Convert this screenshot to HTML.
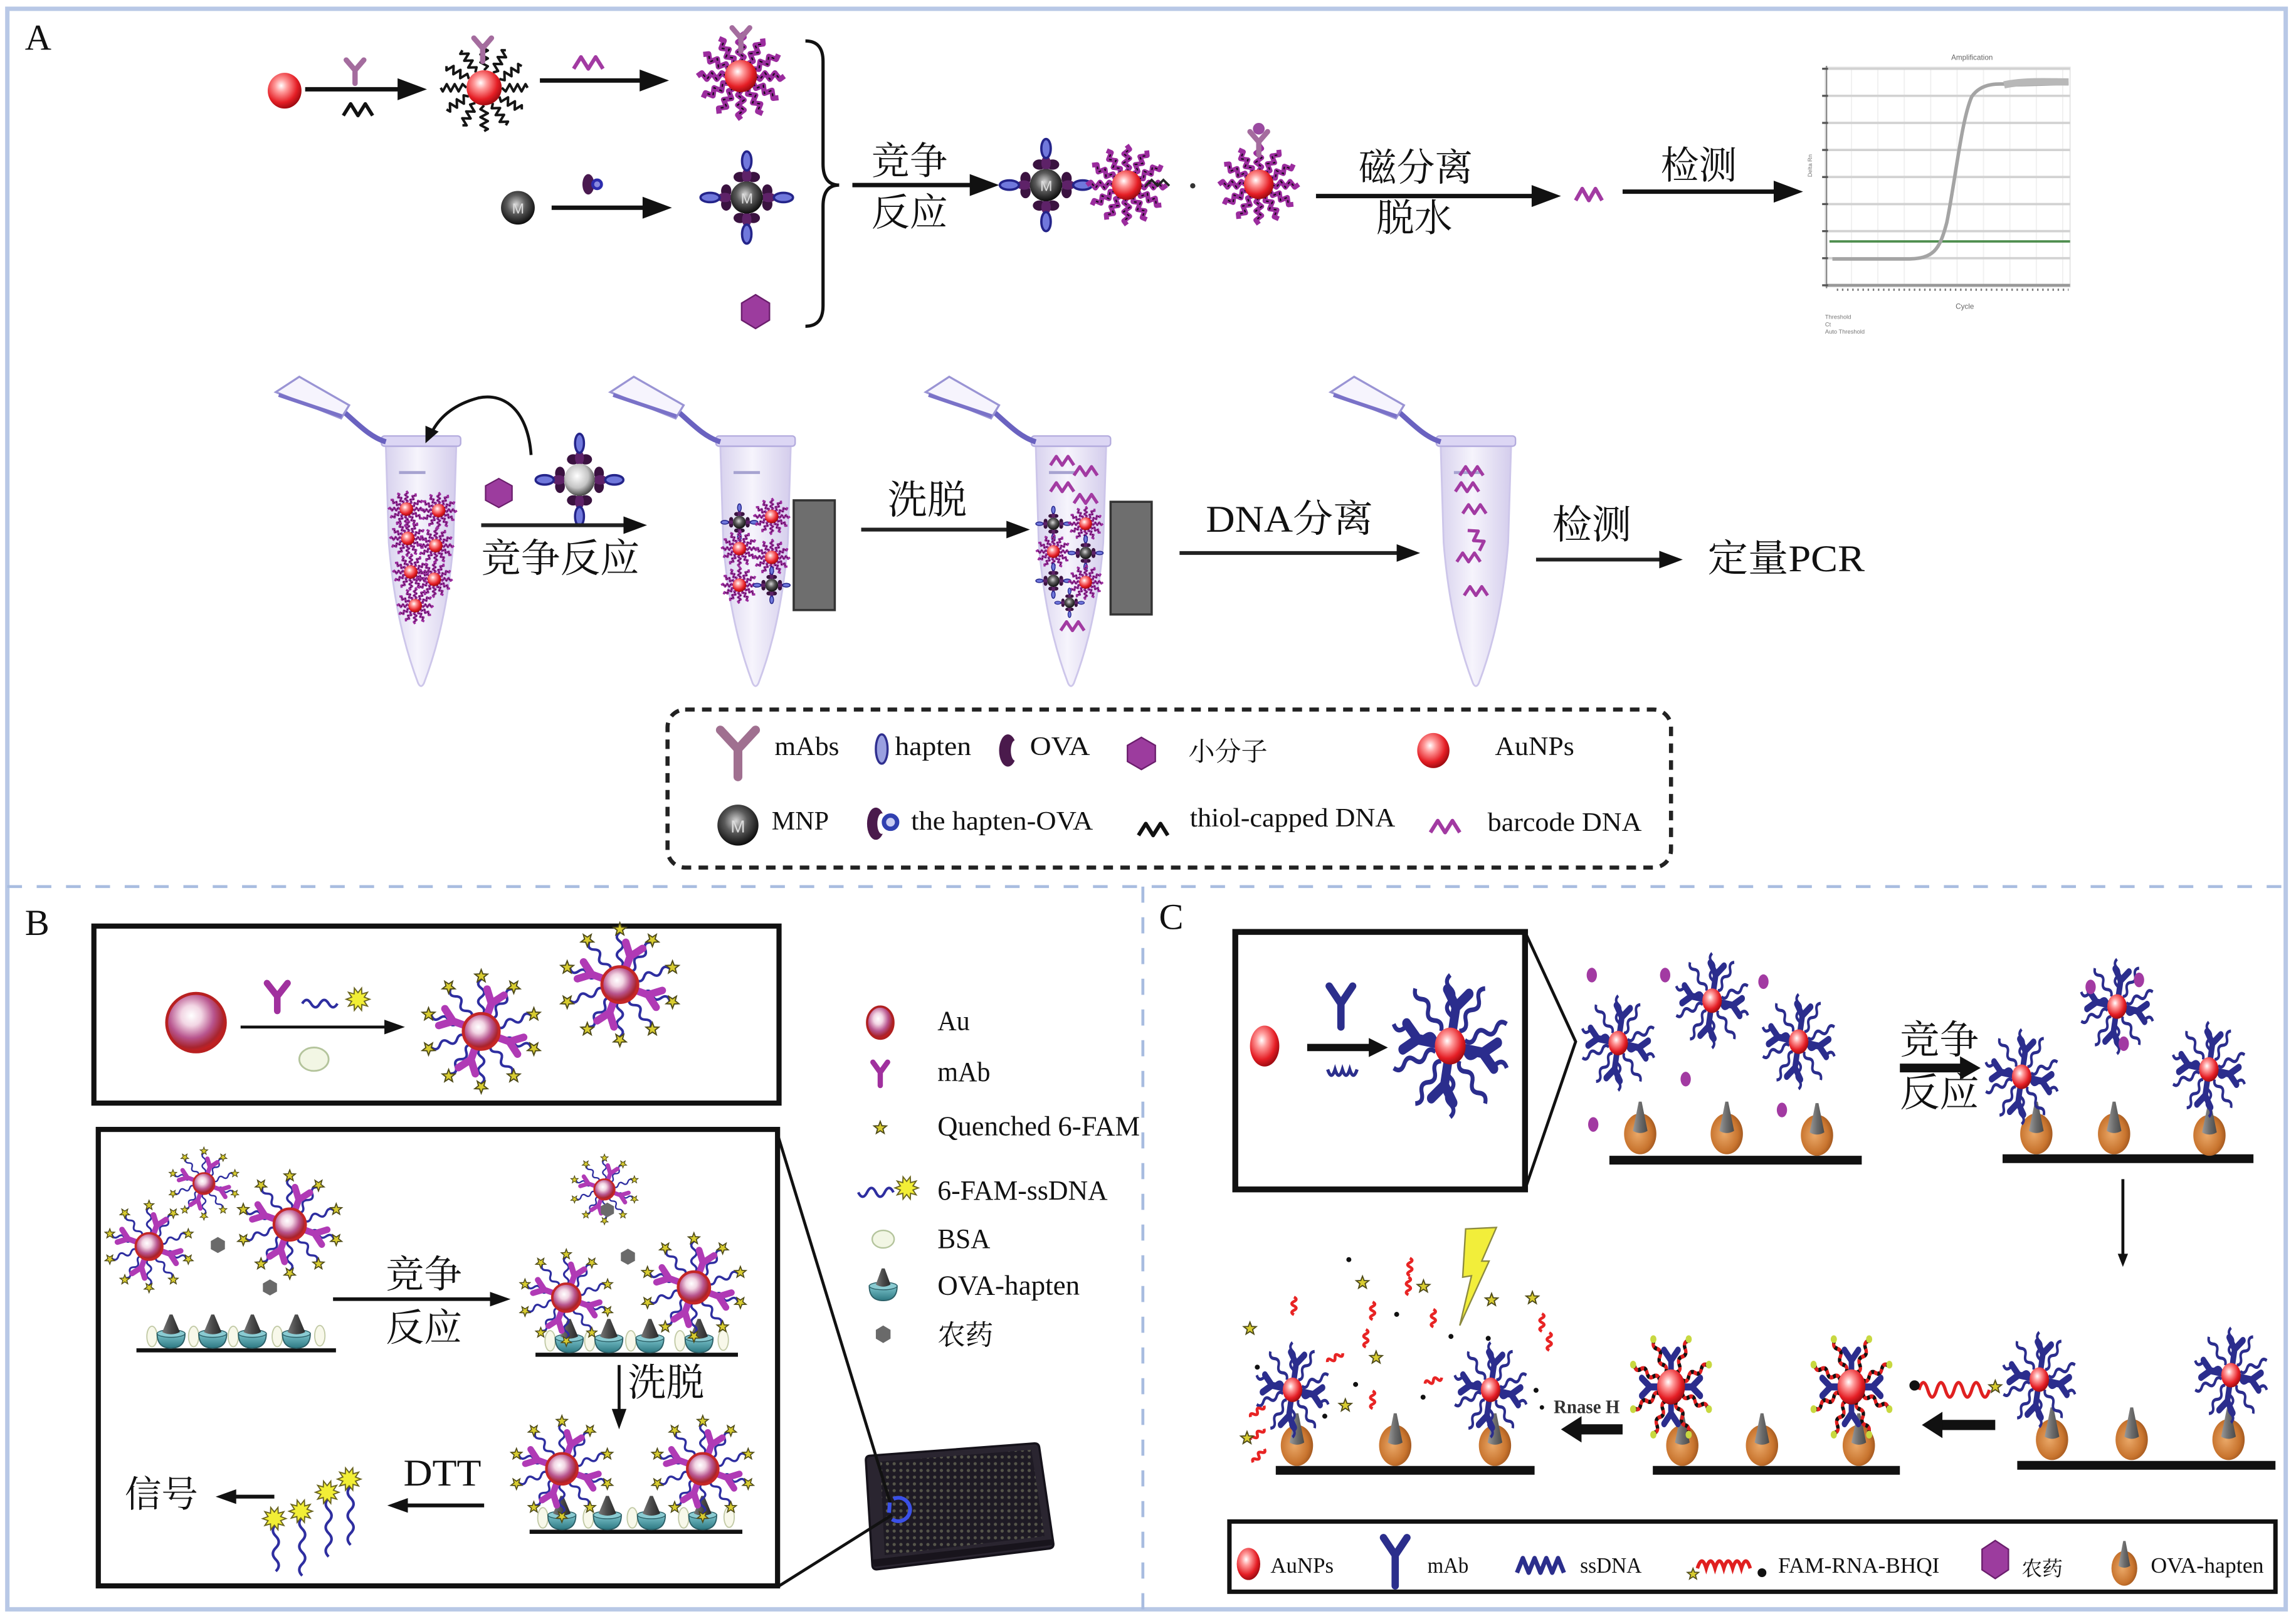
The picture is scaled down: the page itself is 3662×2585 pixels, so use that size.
<!DOCTYPE html>
<html><head><meta charset="utf-8">
<style>
html,body{margin:0;padding:0;background:#fff;}
svg{display:block;}
.s{font-family:"Liberation Serif","Noto Serif CJK SC","Noto Sans CJK SC",serif;fill:#111;}
</style></head><body>
<svg width="3662" height="2585" viewBox="0 0 1565 1108" preserveAspectRatio="none" xmlns="http://www.w3.org/2000/svg">
<defs>
<radialGradient id="gRed" cx="0.4" cy="0.36" r="0.66">
<stop offset="0" stop-color="#ffffff"/><stop offset="0.28" stop-color="#ff9a9a"/><stop offset="0.72" stop-color="#e51e25"/><stop offset="1" stop-color="#9c0a10"/></radialGradient>
<radialGradient id="gAu" cx="0.42" cy="0.38" r="0.62">
<stop offset="0" stop-color="#ffffff"/><stop offset="0.28" stop-color="#f2d6e4"/><stop offset="0.62" stop-color="#b8558e"/><stop offset="0.88" stop-color="#a8242e"/><stop offset="1" stop-color="#c81e1e"/></radialGradient>
<radialGradient id="gBlk" cx="0.45" cy="0.4" r="0.62">
<stop offset="0" stop-color="#d6d6d6"/><stop offset="0.45" stop-color="#5a5a5a"/><stop offset="1" stop-color="#080808"/></radialGradient>
<radialGradient id="gSil" cx="0.42" cy="0.38" r="0.62">
<stop offset="0" stop-color="#ffffff"/><stop offset="0.6" stop-color="#c4c4c4"/><stop offset="1" stop-color="#4a4a4a"/></radialGradient>
<radialGradient id="gDrop" cx="0.42" cy="0.5" r="0.62">
<stop offset="0" stop-color="#eaa868"/><stop offset="0.7" stop-color="#c8742e"/><stop offset="1" stop-color="#9a521c"/></radialGradient>
<linearGradient id="gCone" x1="0" x2="1"><stop offset="0" stop-color="#9a9a9a"/><stop offset="0.5" stop-color="#6c6c6c"/><stop offset="1" stop-color="#4a4a4a"/></linearGradient>
<linearGradient id="gCone2" x1="0" x2="1"><stop offset="0" stop-color="#777"/><stop offset="0.5" stop-color="#4a4a4a"/><stop offset="1" stop-color="#2a2a2a"/></linearGradient>
<linearGradient id="gBowl" x1="0" x2="0" y1="0" y2="1"><stop offset="0" stop-color="#7cc4cc"/><stop offset="1" stop-color="#2d7882"/></linearGradient>
<linearGradient id="gTube" x1="0" x2="1"><stop offset="0" stop-color="#d8d2ee"/><stop offset="0.45" stop-color="#f6f4fc"/><stop offset="1" stop-color="#d4cdec"/></linearGradient>
<pattern id="holes" width="4.6" height="4.6" patternUnits="userSpaceOnUse"><rect width="4.6" height="4.6" fill="#1e1a24"/><circle cx="2.3" cy="2.3" r="1.1" fill="#55554a"/></pattern>

<!-- A: arms -->
<path id="zzk" d="M0,-12 l2.5,-2.7 l-5,-2.7 l5,-2.7 l-5,-2.7 l5,-2.7 l-5,-2.7 l2.5,-1.4" fill="none" stroke="#151515" stroke-width="1.7" stroke-linejoin="round"/>
<g id="zzp"><path d="M0,-10 l2.2,-3 l-4.4,-3.4 l4.4,-3.4 l-4.4,-3.4 l4.4,-3.4 l-2.2,-3" fill="none" stroke="#9b2c9e" stroke-width="3.6" stroke-linejoin="round"/><path d="M0,-10 l2.2,-3 l-4.4,-3.4 l4.4,-3.4 l-4.4,-3.4 l4.4,-3.4" fill="none" stroke="#1a0a1a" stroke-width="1" stroke-dasharray="2 2.5"/></g>
<path id="abA" d="M0,9 L0,0 M0,0 L-6,-7 M0,0 L6,-7" fill="none" stroke="#a46c9e" stroke-width="3.6" stroke-linecap="round"/>
<g id="aBC">
<use href="#zzk"/><use href="#zzk" transform="rotate(30)"/><use href="#zzk" transform="rotate(60)"/><use href="#zzk" transform="rotate(90)"/><use href="#zzk" transform="rotate(120)"/><use href="#zzk" transform="rotate(150)"/><use href="#zzk" transform="rotate(180)"/><use href="#zzk" transform="rotate(210)"/><use href="#zzk" transform="rotate(240)"/><use href="#zzk" transform="rotate(270)"/><use href="#zzk" transform="rotate(300)"/><use href="#zzk" transform="rotate(330)"/>
<circle r="12" fill="url(#gRed)"/>
</g>
<g id="aPF">
<use href="#zzp"/><use href="#zzp" transform="rotate(30)"/><use href="#zzp" transform="rotate(60)"/><use href="#zzp" transform="rotate(90)"/><use href="#zzp" transform="rotate(120)"/><use href="#zzp" transform="rotate(150)"/><use href="#zzp" transform="rotate(180)"/><use href="#zzp" transform="rotate(210)"/><use href="#zzp" transform="rotate(240)"/><use href="#zzp" transform="rotate(270)"/><use href="#zzp" transform="rotate(300)"/><use href="#zzp" transform="rotate(330)"/>
<circle r="11" fill="url(#gRed)"/>
</g>
<g id="mxArm">
<ellipse cx="-4.5" cy="-14" rx="4.5" ry="3.5" fill="#3a1240"/>
<ellipse cx="4.5" cy="-14" rx="4.5" ry="3.5" fill="#3a1240"/>
<ellipse cx="0" cy="-15" rx="3.2" ry="5" fill="#5e2268"/>
<ellipse cx="0" cy="-25" rx="3.2" ry="6.5" fill="#7078dc" stroke="#24248a" stroke-width="1.6"/>
</g>
<g id="aMX">
<use href="#mxArm"/><use href="#mxArm" transform="rotate(90)"/><use href="#mxArm" transform="rotate(180)"/><use href="#mxArm" transform="rotate(270)"/>
<circle r="11" fill="url(#gBlk)"/>
</g>
<g id="aMXs">
<use href="#mxArm"/><use href="#mxArm" transform="rotate(90)"/><use href="#mxArm" transform="rotate(180)"/><use href="#mxArm" transform="rotate(270)"/>
<circle r="11" fill="url(#gSil)"/>
</g>
<path id="pz" d="M-8,3 l4,-6 l4,6 l4,-6 l4,6" fill="none" stroke="#a23aa2" stroke-width="2.2" stroke-linejoin="round"/>
<polygon id="hex" points="0,-11 9.5,-5.5 9.5,5.5 0,11 -9.5,5.5 -9.5,-5.5" fill="#9c3c9e" stroke="#6a1e6c" stroke-width="1"/>

<!-- tube -->
<g id="tube">
<path d="M-24,4 L-22,70 C-18,120 -8,150 -2,166 Q0,170 2,166 C8,150 18,120 22,70 L24,4 Z" fill="url(#gTube)" stroke="#cdc6ea" stroke-width="1.2"/>
<rect x="-27" y="-3" width="54" height="7" rx="2" fill="#dcd6f4" stroke="#b4acde" stroke-width="1"/>
<line x1="-15" y1="22" x2="3" y2="22" stroke="#a6a2d0" stroke-width="2"/>
<path d="M-52,-19 C-42,-10 -34,-2 -24,1" fill="none" stroke="#6a62c0" stroke-width="3.5"/>
<polygon points="-99,-33 -83,-43.5 -49,-24 -54.5,-15" fill="#f6f4fd" stroke="#9a94d4" stroke-width="1.4"/>
<line x1="-97" y1="-31" x2="-54" y2="-16.5" stroke="#7a72c8" stroke-width="2.6"/>
</g>

<!-- B -->
<polygon id="st" points="0,-4.5 1.12,-1.54 4.28,-1.39 1.81,0.59 2.65,3.64 0,1.9 -2.65,3.64 -1.81,0.59 -4.28,-1.39 -1.12,-1.54" fill="#d8cc30" stroke="#4e4a18" stroke-width="0.8"/>
<polygon id="bu" points="8,0 4.28,1.39 6.47,4.7 2.65,3.64 2.47,7.61 0,4.5 -2.47,7.61 -2.65,3.64 -6.47,4.7 -4.28,1.39 -8,0 -4.28,-1.39 -6.47,-4.7 -2.65,-3.64 -2.47,-7.61 0,-4.5 2.47,-7.61 2.65,-3.64 6.47,-4.7 4.28,-1.39" fill="#f2ee36" stroke="#6a6420" stroke-width="0.8"/>
<g id="bW"><path d="M0,-11 q4,-3 0,-6 q-4,-3 0,-6 q4,-3 0,-6 q-4,-3 0,-6" fill="none" stroke="#2e2ea0" stroke-width="1.7"/><use href="#st" transform="translate(0,-37)"/></g>
<path id="bY" d="M0,-9 L0,-20 M0,-20 L-6,-28 M0,-20 L6,-28" fill="none" stroke="#b03ab5" stroke-width="5" stroke-linecap="round"/>
<g id="bC">
<use href="#bW"/><use href="#bW" transform="rotate(36)"/><use href="#bW" transform="rotate(72)"/><use href="#bW" transform="rotate(108)"/><use href="#bW" transform="rotate(144)"/><use href="#bW" transform="rotate(180)"/><use href="#bW" transform="rotate(216)"/><use href="#bW" transform="rotate(252)"/><use href="#bW" transform="rotate(288)"/><use href="#bW" transform="rotate(324)"/>
<use href="#bY" transform="rotate(20)"/><use href="#bY" transform="rotate(110)"/><use href="#bY" transform="rotate(200)"/><use href="#bY" transform="rotate(290)"/>
<circle r="12" fill="url(#gAu)" stroke="#c42626" stroke-width="2"/>
</g>
<g id="bw">
<ellipse cx="-13" cy="-8" rx="3.5" ry="7" fill="#f8f8ea" stroke="#c2caa6" stroke-width="0.8"/>
<path d="M-9.5,-10 Q-9.5,0 0,0 Q9.5,0 9.5,-10 Z" fill="url(#gBowl)" stroke="#2c6068" stroke-width="0.8"/>
<ellipse cy="-10" rx="9.5" ry="2.6" fill="#8acbd2" stroke="#2c6068" stroke-width="0.6"/>
<path d="M-6,-11 Q0,-8 6,-11 L1,-23 L-1,-23 Z" fill="url(#gCone2)"/>
</g>

<!-- C -->
<g id="cW"><path d="M0,-7 q3,-2.5 0,-5 q-3,-2.5 0,-5 q3,-2.5 0,-5 q-3,-2.5 0,-5" fill="none" stroke="#2b2d8d" stroke-width="1.8"/></g>
<path id="cY" d="M0,-6 L0,-15 M0,-15 L-5,-21 M0,-15 L5,-21" fill="none" stroke="#2b2d8d" stroke-width="4" stroke-linecap="round"/>
<g id="cC">
<use href="#cW"/><use href="#cW" transform="rotate(36)"/><use href="#cW" transform="rotate(72)"/><use href="#cW" transform="rotate(108)"/><use href="#cW" transform="rotate(144)"/><use href="#cW" transform="rotate(180)"/><use href="#cW" transform="rotate(216)"/><use href="#cW" transform="rotate(252)"/><use href="#cW" transform="rotate(288)"/><use href="#cW" transform="rotate(324)"/>
<use href="#cY" transform="rotate(10)"/><use href="#cY" transform="rotate(100)"/><use href="#cY" transform="rotate(190)"/><use href="#cY" transform="rotate(280)"/>
<circle r="7" fill="url(#gRed)"/>
</g>
<g id="cWR"><path d="M0,-9 q3,-2.5 0,-5 q-3,-2.5 0,-5 q3,-2.5 0,-5 q-3,-2.5 0,-5" fill="none" stroke="#e02020" stroke-width="2.4"/><path d="M0,-9 q3,-2.5 0,-5 q-3,-2.5 0,-5 q3,-2.5 0,-5 q-3,-2.5 0,-5" fill="none" stroke="#111" stroke-width="2.4" stroke-dasharray="2 2.5"/><circle cy="-30" r="2.2" fill="#c8d840"/></g>
<g id="cRC">
<use href="#cWR" transform="rotate(25)"/><use href="#cWR" transform="rotate(65)"/><use href="#cWR" transform="rotate(115)"/><use href="#cWR" transform="rotate(155)"/><use href="#cWR" transform="rotate(205)"/><use href="#cWR" transform="rotate(245)"/><use href="#cWR" transform="rotate(295)"/><use href="#cWR" transform="rotate(335)"/>
<use href="#cY" transform="rotate(0)"/><use href="#cY" transform="rotate(90)"/><use href="#cY" transform="rotate(180)"/><use href="#cY" transform="rotate(270)"/>
<circle r="10" fill="url(#gRed)"/>
</g>
<g id="dr">
<ellipse rx="11" ry="14" fill="url(#gDrop)"/>
<path d="M-5,-2 Q0,1 5,-2 L1,-22 L-1,-22 Z" fill="url(#gCone)"/>
</g>
<path id="rf" d="M0,-6 q3,1.5 0,3 q-3,1.5 0,3 q3,1.5 0,3 q-3,1.5 0,3" fill="none" stroke="#e82424" stroke-width="2"/>
</defs>

<!-- frame -->
<rect x="5" y="6" width="1553" height="1094" fill="none" stroke="#b8c8e6" stroke-width="3"/>
<line x1="5" y1="606" x2="1558" y2="606" stroke="#a8bce0" stroke-width="2" stroke-dasharray="10 10"/>
<line x1="779" y1="606" x2="779" y2="1100" stroke="#a8bce0" stroke-width="2" stroke-dasharray="11 10"/>

<!-- ================= PANEL A ================= -->
<text class="s" x="17" y="34" font-size="25">A</text>

<!-- row 1 -->
<ellipse cx="194" cy="62" rx="11.5" ry="12.2" fill="url(#gRed)"/>
<line x1="208" y1="61" x2="273" y2="61" stroke="#111" stroke-width="3"/>
<polygon points="271,53.5 291,61 271,68.5" fill="#111"/>
<use href="#abA" transform="translate(242,48)"/>
<path d="M234,79 l5,-8 l5,8 l5,-8 l5,8" fill="none" stroke="#111" stroke-width="2.4" stroke-linejoin="round"/>
<use href="#aBC" transform="translate(330,60)"/>
<use href="#abA" transform="translate(329,33)"/>
<line x1="368" y1="55" x2="438" y2="55" stroke="#111" stroke-width="3"/>
<polygon points="436,47.5 456,55 436,62.5" fill="#111"/>
<path d="M391,47 l5,-8 l5,8 l5,-8 l5,8" fill="none" stroke="#a23aa2" stroke-width="2.6" stroke-linejoin="round"/>
<use href="#aPF" transform="translate(505,52)"/>
<use href="#abA" transform="translate(505,26)"/>

<!-- row 2 -->
<circle cx="353" cy="142" r="11.5" fill="url(#gBlk)"/>
<text x="349" y="146" font-size="10" fill="#ddd" font-family="Liberation Sans, sans-serif">M</text>
<line x1="376" y1="142" x2="440" y2="142" stroke="#111" stroke-width="3"/>
<polygon points="438,134.5 458,142 438,149.5" fill="#111"/>
<ellipse cx="401" cy="126" rx="4" ry="7" fill="#4a1a50"/>
<circle cx="407" cy="126" r="3" fill="#8a8ae0" stroke="#2c2cae" stroke-width="2"/>
<use href="#aMX" transform="translate(509,135)"/>
<text x="505" y="139" font-size="10" fill="#ddd" font-family="Liberation Sans, sans-serif">M</text>
<use href="#hex" transform="translate(515,213) scale(1,1.05)"/>

<!-- brace -->
<path d="M549,28 Q561,28 561,42 L561,112 Q561,126.5 572,126.5 Q561,126.5 561,141 L561,209 Q561,223 549,223" fill="none" stroke="#111" stroke-width="2.2"/>
<text class="s" x="594" y="119" font-size="26">竞争</text>
<text class="s" x="594" y="154" font-size="26">反应</text>
<line x1="581" y1="126.5" x2="663" y2="126.5" stroke="#111" stroke-width="3"/>
<polygon points="661,119 681,126.5 661,134" fill="#111"/>

<use href="#aMX" transform="translate(713,126.5)"/>
<text x="709" y="130.5" font-size="10" fill="#ddd" font-family="Liberation Sans, sans-serif">M</text>
<use href="#aPF" transform="translate(768,126.5) scale(0.92)"/>
<path d="M781,127 l4,-4 l4,4 l4,-4 l4,4" fill="none" stroke="#222" stroke-width="1.6"/>
<circle cx="813" cy="127" r="1.8" fill="#333"/>
<use href="#aPF" transform="translate(858,126) scale(0.92)"/>
<use href="#abA" transform="translate(858,97)"/>
<circle cx="858" cy="88" r="4" fill="#9a4aa0"/>

<text class="s" x="926" y="123.5" font-size="26">磁分离</text>
<text class="s" x="938" y="158" font-size="26">脱水</text>
<line x1="897" y1="134" x2="1046" y2="134" stroke="#111" stroke-width="3"/>
<polygon points="1044,126.5 1064,134 1044,141.5" fill="#111"/>
<path d="M1074,137 l4.5,-8 l4.5,8 l4.5,-8 l4.5,8" fill="none" stroke="#a23aa2" stroke-width="2.6" stroke-linejoin="round"/>
<text class="s" x="1132" y="122" font-size="26">检测</text>
<line x1="1106" y1="131" x2="1211" y2="131" stroke="#111" stroke-width="3"/>
<polygon points="1209,123.5 1229,131 1209,138.5" fill="#111"/>

<!-- chart -->
<g>
<rect x="1244" y="46" width="167" height="150" fill="#fff" stroke="#e4e4e4" stroke-width="0.8"/>
<g stroke="#f0f0f0" stroke-width="0.8">
<line x1="1262" y1="47" x2="1262" y2="195"/><line x1="1280" y1="47" x2="1280" y2="195"/><line x1="1298" y1="47" x2="1298" y2="195"/><line x1="1316" y1="47" x2="1316" y2="195"/><line x1="1334" y1="47" x2="1334" y2="195"/><line x1="1352" y1="47" x2="1352" y2="195"/><line x1="1370" y1="47" x2="1370" y2="195"/><line x1="1388" y1="47" x2="1388" y2="195"/><line x1="1406" y1="47" x2="1406" y2="195"/>
</g>
<g stroke="#d2d2d2" stroke-width="1.6">
<line x1="1245" y1="47" x2="1411" y2="47"/><line x1="1245" y1="65.5" x2="1411" y2="65.5"/><line x1="1245" y1="84" x2="1411" y2="84"/><line x1="1245" y1="102.5" x2="1411" y2="102.5"/><line x1="1245" y1="121" x2="1411" y2="121"/><line x1="1245" y1="139.5" x2="1411" y2="139.5"/><line x1="1245" y1="158" x2="1411" y2="158"/><line x1="1245" y1="176.5" x2="1411" y2="176.5"/>
</g>
<line x1="1245" y1="195" x2="1411" y2="195" stroke="#999" stroke-width="2"/>
<line x1="1245" y1="45" x2="1245" y2="197" stroke="#8a8a8a" stroke-width="1"/>
<g stroke="#555" stroke-width="1.4">
<line x1="1242" y1="47" x2="1246" y2="47"/><line x1="1242" y1="65.5" x2="1246" y2="65.5"/><line x1="1242" y1="84" x2="1246" y2="84"/><line x1="1242" y1="102.5" x2="1246" y2="102.5"/><line x1="1242" y1="121" x2="1246" y2="121"/><line x1="1242" y1="139.5" x2="1246" y2="139.5"/><line x1="1242" y1="158" x2="1246" y2="158"/><line x1="1242" y1="176.5" x2="1246" y2="176.5"/><line x1="1242" y1="195" x2="1246" y2="195"/>
</g>
<line x1="1252" y1="198" x2="1410" y2="198" stroke="#777" stroke-width="1.5" stroke-dasharray="1 2.5"/>
<line x1="1247" y1="165" x2="1411" y2="165" stroke="#4e8e4e" stroke-width="1.6"/>
<path d="M1249,177 L1300,177 C1318,177 1322,171 1327,152 C1333,122 1337,82 1344,66 C1351,56 1362,57 1375,58 L1410,57" fill="none" stroke="#a4a4a4" stroke-width="2.4"/>
<path d="M1366,58 C1380,55 1395,56 1410,56" fill="none" stroke="#b8b8b8" stroke-width="5"/>
<text x="1330" y="41" font-size="5" fill="#666" font-family="Liberation Sans, sans-serif">Amplification</text>
<text x="1333" y="211" font-size="5" fill="#666" font-family="Liberation Sans, sans-serif">Cycle</text>
<text x="1244" y="218" font-size="4" fill="#777" font-family="Liberation Sans, sans-serif">Threshold</text>
<text x="1244" y="223" font-size="4" fill="#777" font-family="Liberation Sans, sans-serif">Ct</text>
<text x="1244" y="228" font-size="4" fill="#777" font-family="Liberation Sans, sans-serif">Auto Threshold</text>
<text x="1235" y="121" font-size="4" fill="#777" font-family="Liberation Sans, sans-serif" transform="rotate(-90 1235 121)">Delta Rn</text>
</g>

<!-- middle row tubes -->
<use href="#tube" transform="translate(287,301)"/>
<use href="#tube" transform="translate(515,301)"/>
<use href="#tube" transform="translate(730,301)"/>
<use href="#tube" transform="translate(1006,301)"/>

<!-- tube1 contents -->
<use href="#aPF" transform="translate(277,348) scale(0.42)"/>
<use href="#aPF" transform="translate(299,349) scale(0.42)"/>
<use href="#aPF" transform="translate(278,368) scale(0.42)"/>
<use href="#aPF" transform="translate(297,373) scale(0.42)"/>
<use href="#aPF" transform="translate(280,391) scale(0.42)"/>
<use href="#aPF" transform="translate(296,396) scale(0.42)"/>
<use href="#aPF" transform="translate(283,414) scale(0.42)"/>

<!-- curved arrow + reagents -->
<path d="M362,311 C360,282 345,268 326,272 C311,276 300,284 294,296" fill="none" stroke="#111" stroke-width="2"/>
<polygon points="290,303 299,295 290,291" fill="#111"/>
<use href="#hex" transform="translate(340,337) scale(0.95,0.9)"/>
<use href="#aMXs" transform="translate(395,328) scale(0.95,1)"/>
<line x1="328" y1="359" x2="426" y2="359" stroke="#222" stroke-width="2.6"/>
<polygon points="425,353 441,359 425,365" fill="#111"/>
<text class="s" x="328" y="391" font-size="27">竞争反应</text>

<!-- tube2 contents + magnet -->
<use href="#aMX" transform="translate(504,357) scale(0.4)"/>
<use href="#aPF" transform="translate(526,353) scale(0.42)"/>
<use href="#aPF" transform="translate(504,375) scale(0.42)"/>
<use href="#aPF" transform="translate(526,381) scale(0.42)"/>
<use href="#aPF" transform="translate(504,400) scale(0.42)"/>
<use href="#aMX" transform="translate(526,400) scale(0.4)"/>
<rect x="541" y="342" width="28" height="75" fill="#6e6e6e" stroke="#333" stroke-width="1.5"/>

<text class="s" x="605" y="351" font-size="27">洗脱</text>
<line x1="587" y1="362" x2="687" y2="362" stroke="#222" stroke-width="2.6"/>
<polygon points="686,356 702,362 686,368" fill="#111"/>

<!-- tube3 contents + magnet -->
<use href="#pz" transform="translate(724,315)"/>
<use href="#pz" transform="translate(740,322)"/>
<use href="#pz" transform="translate(724,333)"/>
<use href="#pz" transform="translate(740,341)"/>
<use href="#aMX" transform="translate(718,358) scale(0.38)"/>
<use href="#aPF" transform="translate(740,358) scale(0.4)"/>
<use href="#aPF" transform="translate(718,377) scale(0.4)"/>
<use href="#aMX" transform="translate(740,378) scale(0.38)"/>
<use href="#aMX" transform="translate(718,397) scale(0.38)"/>
<use href="#aPF" transform="translate(740,398) scale(0.4)"/>
<use href="#aMX" transform="translate(729,412) scale(0.32)"/>
<use href="#pz" transform="translate(731,428)"/>
<rect x="757" y="343" width="28" height="77" fill="#6e6e6e" stroke="#333" stroke-width="1.5"/>

<text class="s" x="822" y="363.5" font-size="26" textLength="114" lengthAdjust="spacingAndGlyphs">DNA分离</text>
<line x1="804" y1="378" x2="953" y2="378" stroke="#222" stroke-width="2.6"/>
<polygon points="952,372 968,378 952,384" fill="#111"/>

<!-- tube4 contents -->
<use href="#pz" transform="translate(1003,322)"/>
<use href="#pz" transform="translate(1000,333)"/>
<use href="#pz" transform="translate(1005,348)"/>
<use href="#pz" transform="translate(1007,368) rotate(60)"/>
<use href="#pz" transform="translate(1001,381)"/>
<use href="#pz" transform="translate(1006,404)"/>

<text class="s" x="1058" y="368" font-size="27">检测</text>
<line x1="1047" y1="382.5" x2="1132" y2="382.5" stroke="#222" stroke-width="2.6"/>
<polygon points="1131,376.5 1147,382.5 1131,388.5" fill="#111"/>
<text class="s" x="1164" y="390.5" font-size="26" textLength="107" lengthAdjust="spacingAndGlyphs">定量PCR</text>

<!-- legend A -->
<rect x="455" y="485" width="684" height="108" rx="12" fill="none" stroke="#222" stroke-width="2.8" stroke-dasharray="6.5 5"/>
<path d="M503,531 L503,512 M503,512 L491,499 M503,512 L515,499" fill="none" stroke="#a07090" stroke-width="6" stroke-linecap="round"/>
<text class="s" x="528" y="516" font-size="18" textLength="44" lengthAdjust="spacingAndGlyphs">mAbs</text>
<ellipse cx="601" cy="512" rx="4" ry="10" fill="#9aa0e0" stroke="#303090" stroke-width="1.5"/>
<text class="s" x="610" y="516" font-size="18" textLength="52" lengthAdjust="spacingAndGlyphs">hapten</text>
<ellipse cx="687" cy="513" rx="6" ry="11" fill="#4a1a4c"/>
<ellipse cx="692" cy="513" rx="3" ry="7" fill="#fff"/>
<text class="s" x="702" y="516" font-size="18" textLength="41" lengthAdjust="spacingAndGlyphs">OVA</text>
<use href="#hex" transform="translate(778,515)"/>
<text class="s" x="810" y="520" font-size="18">小分子</text>
<ellipse cx="977" cy="513" rx="11" ry="12" fill="url(#gRed)"/>
<text class="s" x="1019" y="516" font-size="18" textLength="54" lengthAdjust="spacingAndGlyphs">AuNPs</text>
<circle cx="503" cy="564" r="14" fill="url(#gBlk)"/>
<text x="498" y="569" font-size="12" fill="#ddd" font-family="Liberation Sans, sans-serif">M</text>
<text class="s" x="526" y="567" font-size="18" textLength="39" lengthAdjust="spacingAndGlyphs">MNP</text>
<ellipse cx="597" cy="563" rx="6" ry="11" fill="#4a1a4c"/>
<ellipse cx="601" cy="563" rx="3" ry="7" fill="#fff"/>
<circle cx="607" cy="562" r="4.5" fill="#c8ccf2" stroke="#3040b0" stroke-width="3"/>
<text class="s" x="621" y="567" font-size="18" textLength="124" lengthAdjust="spacingAndGlyphs">the hapten-OVA</text>
<path d="M776,571 l5,-8 l5,8 l5,-8 l5,8" fill="none" stroke="#111" stroke-width="2.6" stroke-linejoin="round"/>
<text class="s" x="811" y="565" font-size="18" textLength="140" lengthAdjust="spacingAndGlyphs">thiol-capped DNA</text>
<path d="M975,569 l5,-8 l5,8 l5,-8 l5,8" fill="none" stroke="#a23aa2" stroke-width="2.6" stroke-linejoin="round"/>
<text class="s" x="1014" y="568" font-size="18" textLength="105" lengthAdjust="spacingAndGlyphs">barcode DNA</text>

<!-- ================= PANEL B ================= -->
<text class="s" x="17" y="639" font-size="25">B</text>
<rect x="64" y="633" width="467" height="121" fill="none" stroke="#111" stroke-width="3.5"/>
<circle cx="133.6" cy="699" r="20" fill="url(#gAu)" stroke="#b82020" stroke-width="2"/>
<line x1="164" y1="702" x2="263" y2="702" stroke="#111" stroke-width="2"/>
<polygon points="262,697 276,702 262,707" fill="#111"/>
<path d="M189,691 L189,681 M189,681 L182,672 M189,681 L196,672" fill="none" stroke="#a0309e" stroke-width="4.5" stroke-linecap="round"/>
<path d="M206,686 q3,-5 6,0 q3,5 6,0 q3,-5 6,0 q3,5 6,0" fill="none" stroke="#2e2ea0" stroke-width="1.8"/>
<use href="#bu" transform="translate(244,683)"/>
<ellipse cx="214" cy="724" rx="10" ry="8" fill="#f2f6e4" stroke="#b4c49c" stroke-width="1.2"/>
<use href="#bC" transform="translate(328,705) scale(1.02)"/>
<use href="#bC" transform="translate(422.5,673) scale(1.02)"/>

<rect x="67" y="772" width="463" height="312" fill="none" stroke="#111" stroke-width="3.5"/>
<use href="#bC" transform="translate(101.6,852) scale(0.76)"/>
<use href="#bC" transform="translate(139,809) scale(0.6)"/>
<use href="#bC" transform="translate(197.5,837) scale(0.9)"/>
<polygon points="148.5,845.5 153.3,848.3 153.3,853.8 148.5,856.5 143.7,853.8 143.7,848.3" fill="#6a6a6a"/>
<polygon points="184,874.5 188.8,877.3 188.8,882.8 184,885.5 179.2,882.8 179.2,877.3" fill="#6a6a6a"/>
<line x1="93" y1="923" x2="229" y2="923" stroke="#111" stroke-width="2.8"/>
<use href="#bw" transform="translate(116.6,921.5)"/>
<use href="#bw" transform="translate(145,921.5)"/>
<use href="#bw" transform="translate(172,921.5)"/>
<use href="#bw" transform="translate(202,921.5)"/>
<ellipse cx="218" cy="913" rx="3.5" ry="7" fill="#f8f8ea" stroke="#c2caa6" stroke-width="0.8"/>
<line x1="227" y1="888" x2="335" y2="888" stroke="#111" stroke-width="2.5"/>
<polygon points="334,883 348,888 334,893" fill="#111"/>
<text class="s" x="263" y="880" font-size="26">竞争</text>
<text class="s" x="263" y="916.5" font-size="26">反应</text>

<line x1="365" y1="926" x2="503" y2="926" stroke="#111" stroke-width="2.8"/>
<use href="#bw" transform="translate(388,924.5)"/>
<use href="#bw" transform="translate(415,924.5)"/>
<use href="#bw" transform="translate(443,924.5)"/>
<use href="#bw" transform="translate(476.5,924.5)"/>
<ellipse cx="493" cy="916" rx="3.5" ry="7" fill="#f8f8ea" stroke="#c2caa6" stroke-width="0.8"/>
<use href="#bC" transform="translate(386,887) scale(0.8)"/>
<use href="#bC" transform="translate(473,880) scale(0.9)"/>
<use href="#bC" transform="translate(412,813) scale(0.58)"/>
<polygon points="414,822 418.5,824.5 418.5,829.5 414,832 409.5,829.5 409.5,824.5" fill="#6a6a6a"/>
<polygon points="428,853.5 432.8,856.3 432.8,861.8 428,864.5 423.2,861.8 423.2,856.3" fill="#6a6a6a"/>
<line x1="422" y1="933" x2="422" y2="964" stroke="#111" stroke-width="2"/>
<polygon points="417,963 422,977 427,963" fill="#111"/>
<text class="s" x="428" y="954" font-size="26">洗脱</text>

<line x1="361" y1="1047" x2="506" y2="1047" stroke="#111" stroke-width="2.8"/>
<use href="#bw" transform="translate(383,1045.5)"/>
<use href="#bw" transform="translate(414,1045.5)"/>
<use href="#bw" transform="translate(444,1045.5)"/>
<use href="#bw" transform="translate(479,1045.5)"/>
<ellipse cx="497" cy="1037" rx="3.5" ry="7" fill="#f8f8ea" stroke="#c2caa6" stroke-width="0.8"/>
<use href="#bC" transform="translate(383,1004) scale(0.88)"/>
<use href="#bC" transform="translate(479,1004) scale(0.88)"/>

<text class="s" x="275" y="1015.5" font-size="26" textLength="53" lengthAdjust="spacingAndGlyphs">DTT</text>
<line x1="330" y1="1029" x2="277" y2="1029" stroke="#111" stroke-width="2.6"/>
<polygon points="278,1024 264,1029 278,1034" fill="#111"/>
<g fill="none" stroke="#2e2ea0" stroke-width="1.8">
<path d="M188,1042 q-4,4 0,8 q4,4 0,8 q-4,4 0,8 q4,4 0,8"/>
<path d="M206,1037 q-4,4 0,8 q4,4 0,8 q-4,4 0,8 q4,4 0,8 q-4,4 0,8"/>
<path d="M224,1024 q-4,4 0,8 q4,4 0,8 q-4,4 0,8 q4,4 0,8 q-4,4 0,8"/>
<path d="M239,1016 q-4,4 0,8 q4,4 0,8 q-4,4 0,8 q4,4 0,8 q-4,4 0,8"/>
</g>
<use href="#bu" transform="translate(187,1038)"/>
<use href="#bu" transform="translate(205,1033)"/>
<use href="#bu" transform="translate(223,1020)"/>
<use href="#bu" transform="translate(238,1011)"/>
<line x1="187" y1="1023" x2="160" y2="1023" stroke="#111" stroke-width="2.6"/>
<polygon points="161,1018 147,1023 161,1028" fill="#111"/>
<text class="s" x="85" y="1030" font-size="25">信号</text>

<!-- plate & callout lines -->
<path d="M593,995 L705,986.6 Q708,986.5 708.4,989.5 L718,1055 Q718.3,1058 715,1058.5 L598,1072.7 Q594.8,1073 594.6,1069.8 L590.2,998.5 Q590,995.2 593,995 Z" fill="#2a2530" stroke="#15121a" stroke-width="1.5"/>
<path d="M600,999 L703,991 L712,1050 L603,1063 Z" fill="url(#holes)"/>
<path d="M594.6,1066 L718,1052 L718,1056 L596,1071 Z" fill="#18141c"/>
<line x1="529" y1="772" x2="607" y2="1028" stroke="#111" stroke-width="2"/>
<line x1="530" y1="1084.7" x2="608" y2="1035.5" stroke="#111" stroke-width="2"/>
<path d="M609,1024.5 A8,8 0 1 1 608,1038.5" fill="none" stroke="#3a50e8" stroke-width="2.6"/>
<path d="M606.5,1027 L606,1034" fill="none" stroke="#3a50e8" stroke-width="2.6"/>

<!-- legend B -->
<ellipse cx="600" cy="699" rx="9" ry="11" fill="url(#gAu)" stroke="#b02020" stroke-width="1.5"/>
<text class="s" x="639" y="704" font-size="19" textLength="22" lengthAdjust="spacingAndGlyphs">Au</text>
<path d="M600,742 L600,733 M600,733 L595,726 M600,733 L605,726" fill="none" stroke="#a0309e" stroke-width="3.6" stroke-linecap="round"/>
<text class="s" x="639" y="739" font-size="19" textLength="36" lengthAdjust="spacingAndGlyphs">mAb</text>
<use href="#st" transform="translate(600,771)"/>
<text class="s" x="639" y="776" font-size="19" textLength="138" lengthAdjust="spacingAndGlyphs">Quenched 6-FAM</text>
<path d="M585,815 q3,6 6,0 q3,-6 6,0 q3,6 6,0 q3,-6 6,0" fill="none" stroke="#2e2ea0" stroke-width="1.8"/>
<use href="#bu" transform="translate(618,812)"/>
<text class="s" x="639" y="820" font-size="19" textLength="116" lengthAdjust="spacingAndGlyphs">6-FAM-ssDNA</text>
<ellipse cx="602" cy="847" rx="7.5" ry="6" fill="#f2f6e4" stroke="#b4c49c" stroke-width="1"/>
<text class="s" x="639" y="853" font-size="19" textLength="36" lengthAdjust="spacingAndGlyphs">BSA</text>
<g transform="translate(602,889)">
<path d="M-9.5,-10 Q-9.5,0 0,0 Q9.5,0 9.5,-10 Z" fill="url(#gBowl)" stroke="#2c6068" stroke-width="0.8"/>
<ellipse cy="-10" rx="9.5" ry="2.6" fill="#8acbd2" stroke="#2c6068" stroke-width="0.6"/>
<path d="M-5,-11 Q0,-8 5,-11 L1,-22 L-1,-22 Z" fill="url(#gCone2)"/>
</g>
<text class="s" x="639" y="885" font-size="19" textLength="97" lengthAdjust="spacingAndGlyphs">OVA-hapten</text>
<polygon points="602,906 607,909 607,915 602,918 597,915 597,909" fill="#6a6a6a"/>
<text class="s" x="639" y="919" font-size="19">农药</text>

<!-- ================= PANEL C ================= -->
<text class="s" x="790" y="635" font-size="25">C</text>
<rect x="842" y="637" width="197.5" height="176" fill="none" stroke="#111" stroke-width="4"/>
<polyline points="1039.5,637 1074,712 1039.5,813" fill="none" stroke="#111" stroke-width="2"/>
<ellipse cx="862" cy="715" rx="10" ry="14" fill="url(#gRed)"/>
<line x1="891" y1="716" x2="935" y2="716" stroke="#111" stroke-width="5"/>
<polygon points="933,709.5 946,716 933,722.5" fill="#111"/>
<path d="M914,702 L914,686 M914,686 L906,674 M914,686 L922,674" fill="none" stroke="#2b2e8c" stroke-width="5" stroke-linecap="round"/>
<path d="M905,731 q2.5,8 5,0 q2.5,8 5,0 q2.5,8 5,0 q2.5,8 5,0" fill="none" stroke="#2b2e8c" stroke-width="2.2"/>
<use href="#cC" transform="translate(988.5,715) scale(1.5,1.8)"/>

<!-- upper group -->
<line x1="1097" y1="793" x2="1269" y2="793" stroke="#111" stroke-width="6"/>
<use href="#dr" transform="translate(1118,775)"/>
<use href="#dr" transform="translate(1177,775)"/>
<use href="#dr" transform="translate(1238.5,776)"/>
<use href="#cC" transform="translate(1103,713) scale(0.95,1.2)"/>
<use href="#cC" transform="translate(1167,684) scale(0.95,1.2)"/>
<use href="#cC" transform="translate(1226,712) scale(0.95,1.2)"/>
<g fill="#a23aa2">
<ellipse cx="1085" cy="666.5" rx="3.5" ry="5"/>
<ellipse cx="1135" cy="666.5" rx="3.5" ry="5"/>
<ellipse cx="1202" cy="671" rx="3.5" ry="5"/>
<ellipse cx="1149" cy="737.6" rx="3.5" ry="5"/>
<ellipse cx="1086" cy="768.6" rx="3.5" ry="5"/>
<ellipse cx="1214.6" cy="758.7" rx="3.5" ry="5"/>
</g>
<text class="s" x="1295" y="720" font-size="27">竞争</text>
<text class="s" x="1295" y="756" font-size="27">反应</text>
<line x1="1295" y1="730" x2="1338" y2="730" stroke="#111" stroke-width="6"/>
<polygon points="1336,722 1350,730 1336,738" fill="#111"/>

<line x1="1365" y1="792" x2="1536" y2="792" stroke="#111" stroke-width="6"/>
<use href="#dr" transform="translate(1388,775)"/>
<use href="#dr" transform="translate(1441,775)"/>
<use href="#dr" transform="translate(1506,776)"/>
<use href="#cC" transform="translate(1378,736) scale(0.95,1.2)"/>
<use href="#cC" transform="translate(1443,688) scale(0.95,1.2)"/>
<use href="#cC" transform="translate(1505.6,731) scale(0.95,1.2)"/>
<g fill="#a23aa2">
<ellipse cx="1425" cy="674.6" rx="3.5" ry="5"/>
<ellipse cx="1458" cy="669.8" rx="3.5" ry="5"/>
<ellipse cx="1447.6" cy="713.4" rx="3.5" ry="5"/>
</g>
<line x1="1447" y1="806" x2="1447" y2="858" stroke="#111" stroke-width="2"/>
<polygon points="1443.5,857 1447,866 1450.5,857" fill="#111"/>

<!-- bottom right -->
<line x1="1375" y1="1001.6" x2="1551" y2="1001.6" stroke="#111" stroke-width="6"/>
<use href="#dr" transform="translate(1398.7,984)"/>
<use href="#dr" transform="translate(1453,984)"/>
<use href="#dr" transform="translate(1519,984)"/>
<use href="#cC" transform="translate(1390,943) scale(0.95,1.2)"/>
<use href="#cC" transform="translate(1520.7,940) scale(0.95,1.2)"/>
<path d="M1308,950 q3,-10 6,0 q3,10 6,0 q3,-10 6,0 q3,10 6,0 q3,-10 6,0 q3,10 6,0 q3,-10 6,0 q3,10 6,0" fill="none" stroke="#e02020" stroke-width="2.2"/>
<circle cx="1305" cy="947" r="3.5" fill="#111"/>
<use href="#st" transform="translate(1360,948)"/>
<line x1="1360" y1="974" x2="1322" y2="974" stroke="#111" stroke-width="7"/>
<polygon points="1324,965 1310,974 1324,983" fill="#111"/>

<!-- bottom middle -->
<line x1="1126.6" y1="1005" x2="1295" y2="1005" stroke="#111" stroke-width="6"/>
<use href="#dr" transform="translate(1146.7,988)"/>
<use href="#dr" transform="translate(1201,988)"/>
<use href="#dr" transform="translate(1267,988)"/>
<use href="#cRC" transform="translate(1139,948) scale(0.95,1.2)"/>
<use href="#cRC" transform="translate(1262,948) scale(0.95,1.2)"/>
<text x="1059" y="966" font-size="13" font-weight="bold" fill="#333" font-family="Liberation Serif, serif" textLength="45" lengthAdjust="spacingAndGlyphs">Rnase H</text>
<circle cx="1051" cy="962" r="1.5" fill="#111"/>
<line x1="1106" y1="977" x2="1076" y2="977" stroke="#111" stroke-width="7"/>
<polygon points="1078,968 1064,977 1078,986" fill="#111"/>

<!-- bottom left -->
<line x1="869.6" y1="1005" x2="1046" y2="1005" stroke="#111" stroke-width="6"/>
<use href="#dr" transform="translate(884,988)"/>
<use href="#dr" transform="translate(951,988)"/>
<use href="#dr" transform="translate(1019,988)"/>
<use href="#cC" transform="translate(881,950) scale(0.95,1.2)"/>
<use href="#cC" transform="translate(1016,950) scale(0.95,1.2)"/>
<polygon points="999,840 1020,839 1010,862 1015,862 995,906 1003,872 997,873" fill="#f2ee3a" stroke="#8c8a40" stroke-width="1"/>
<g>
<use href="#rf" transform="translate(961,866)"/>
<use href="#rf" transform="translate(960,879)"/>
<use href="#rf" transform="translate(935.6,896)"/>
<use href="#rf" transform="translate(977,901)"/>
<use href="#rf" transform="translate(931,914.8)"/>
<use href="#rf" transform="translate(882,892.6)"/>
<use href="#rf" transform="translate(1051,904)"/>
<use href="#rf" transform="translate(1056,917)"/>
<use href="#rf" transform="translate(910,928) rotate(60)"/>
<use href="#rf" transform="translate(857,964.7) rotate(50)"/>
<use href="#rf" transform="translate(977,943.7) rotate(70)"/>
<use href="#rf" transform="translate(935.6,956.8)"/>
<use href="#rf" transform="translate(857,980.5) rotate(50)"/>
<use href="#rf" transform="translate(858,995) rotate(40)"/>
</g>
<use href="#st" transform="translate(928.7,876.8)"/>
<use href="#st" transform="translate(970.3,879.4)"/>
<use href="#st" transform="translate(1016.7,888.6)"/>
<use href="#st" transform="translate(1044.5,887.3)"/>
<use href="#st" transform="translate(852,908.2)"/>
<use href="#st" transform="translate(938,928)"/>
<use href="#st" transform="translate(917,960.7)"/>
<use href="#st" transform="translate(850,983)"/>
<g fill="#111">
<circle cx="919.4" cy="861" r="1.7"/><circle cx="952" cy="898.4" r="1.7"/><circle cx="989" cy="913.5" r="1.7"/><circle cx="857" cy="934.5" r="1.7"/><circle cx="924" cy="946.3" r="1.7"/><circle cx="1047" cy="950.3" r="1.7"/><circle cx="1014.4" cy="914.8" r="1.7"/><circle cx="970" cy="955" r="1.7"/><circle cx="903" cy="968" r="1.7"/>
</g>

<!-- legend C -->
<rect x="838" y="1040" width="713" height="48" fill="none" stroke="#111" stroke-width="3"/>
<ellipse cx="851" cy="1069" rx="8" ry="11" fill="url(#gRed)"/>
<text class="s" x="866" y="1075" font-size="15" textLength="43" lengthAdjust="spacingAndGlyphs">AuNPs</text>
<path d="M951,1084 L951,1063 M951,1063 L943,1051 M951,1063 L959,1051" fill="none" stroke="#2b2e8c" stroke-width="5" stroke-linecap="round"/>
<text class="s" x="973" y="1075" font-size="15" textLength="28" lengthAdjust="spacingAndGlyphs">mAb</text>
<path d="M1034,1075 l4,-10 l4,10 l4,-10 l4,10 l4,-10 l4,10 l4,-10 l4,10" fill="none" stroke="#2b2e8c" stroke-width="3" stroke-linejoin="round"/>
<text class="s" x="1077" y="1075" font-size="15" textLength="42" lengthAdjust="spacingAndGlyphs">ssDNA</text>
<path d="M1157,1072 q3,-10 6,0 q3,-10 6,0 q3,-10 6,0 q3,-10 6,0 q3,-10 6,0 q3,-10 6,0" fill="none" stroke="#e02020" stroke-width="2.4"/>
<use href="#st" transform="translate(1154,1076) scale(0.9)"/>
<circle cx="1201" cy="1075" r="3" fill="#111"/>
<text class="s" x="1212" y="1075" font-size="15" textLength="110" lengthAdjust="spacingAndGlyphs">FAM-RNA-BHQI</text>
<polygon points="1360,1053 1369,1059 1369,1073 1360,1079 1351,1073 1351,1059" fill="#9c3c9e" stroke="#6a1e6c" stroke-width="1"/>
<text class="s" x="1378" y="1077" font-size="14">农药</text>
<g transform="translate(1448,1072) scale(0.8,0.85)">
<ellipse rx="11" ry="14" fill="url(#gDrop)"/>
<path d="M-5,-2 Q0,1 5,-2 L1,-22 L-1,-22 Z" fill="url(#gCone)"/>
</g>
<text class="s" x="1466" y="1075" font-size="15" textLength="77" lengthAdjust="spacingAndGlyphs">OVA-hapten</text>
</svg>
</body></html>
